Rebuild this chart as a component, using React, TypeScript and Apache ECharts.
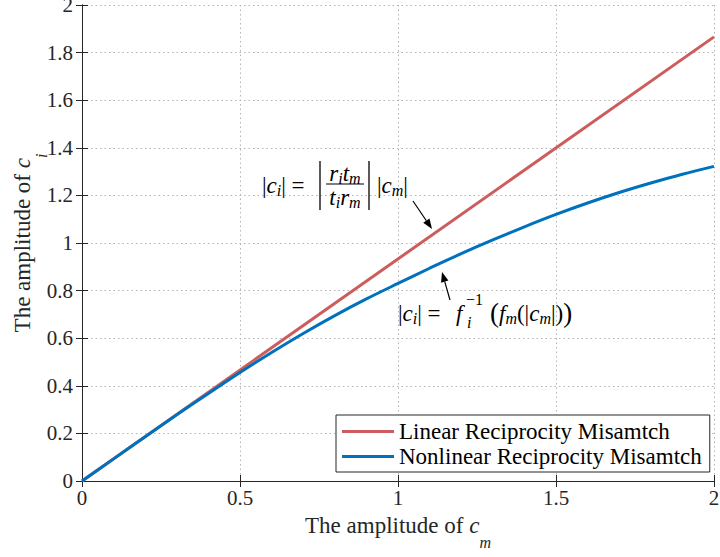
import React, { useEffect, useRef } from "react";
import * as echarts from "echarts";

// ---- data ----
const linearX = [0, 2];
const linearY = [0, 1.866];
const nonlinearX = [0, 0.1, 0.2, 0.3, 0.4, 0.5, 0.6, 0.7, 0.8, 0.9, 1.0, 1.1, 1.2, 1.3, 1.4, 1.5, 1.6, 1.7, 1.8, 1.9, 2.0];
const nonlinearY = [0, 0.093, 0.186, 0.278, 0.368, 0.456, 0.54, 0.62, 0.695, 0.765, 0.83, 0.894, 0.955, 1.013, 1.068, 1.12, 1.168, 1.212, 1.252, 1.289, 1.322];
const seriesNames = ["Linear Reciprocity Misamtch", "Nonlinear Reciprocity Misamtch"];
const xTitle = "{n|The amplitude of }{i|c}{s|m}";
const yTitle = "{n|The amplitude of }{i|c}{s|i}";

const SERIF = "Liberation Serif";
const AX = "#262626";
const RED = "#CD5C5C";
const BLUE = "#0072BD";

const fontStr = (italic: boolean, size: number) => `${italic ? "italic" : "normal"} normal ${size}px ${SERIF}`;

export default function App() {
  const ref = useRef<HTMLDivElement>(null);
  useEffect(() => {
    const chart = echarts.init(ref.current!, null, { renderer: "svg" });
    const tickLabel = {
      fontFamily: SERIF,
      fontSize: 21,
      color: AX,
      formatter: (v: number) => `{t|${v}}`,
      rich: { t: { fontFamily: SERIF, fontSize: 21, color: AX } },
    };
    const mkTitleRich = (H: number) => ({
      n: { fontFamily: SERIF, fontSize: 23, lineHeight: H, color: AX },
      i: { fontFamily: SERIF, fontSize: 23, lineHeight: H, fontStyle: "italic", color: AX },
      s: { fontFamily: SERIF, fontSize: 16, lineHeight: 16, fontStyle: "italic", verticalAlign: "bottom", color: AX },
    });
    const mathRich = {
      n: { font: fontStr(false, 23), fontFamily: SERIF, fontSize: 23, lineHeight: 26, fill: "#000" },
      b: { font: fontStr(false, 27), fontFamily: SERIF, fontSize: 27, lineHeight: 26, fill: "#000" },
      i: { font: fontStr(true, 23), fontFamily: SERIF, fontSize: 23, lineHeight: 26, fontStyle: "italic", fill: "#000" },
      s: { font: fontStr(true, 16), fontFamily: SERIF, fontSize: 16, lineHeight: 16, fontStyle: "italic", verticalAlign: "bottom", fill: "#000" },
    };
    const splitLine = { show: true, lineStyle: { color: "#b4b4b4", type: [1.5, 3], width: 1 } };
    const axisLine = { show: true, lineStyle: { color: AX, width: 1 } };
    const axisTick = { show: true, inside: true, length: 6, lineStyle: { color: AX, width: 1 } };
    const mtext = (x: number, y: number, text: string, align = "left") => ({
      type: "text",
      x,
      y,
      z: 100,
      style: {
        text,
        rich: mathRich,
        align,
        verticalAlign: "middle",
        fill: "#000",
        font: fontStr(false, 23),
      },
    });
    const ptext = (x: number, y: number, text: string, italic: boolean, size: number) => ({
      type: "text",
      x,
      y,
      z: 100,
      style: { text, font: fontStr(italic, size), fill: "#000", verticalAlign: "middle" },
    });
    const vline = (x: number, y1: number, y2: number) => ({
      type: "line",
      z: 100,
      shape: { x1: x, y1, x2: x, y2 },
      style: { stroke: "#000", lineWidth: 1.3 },
    });
    const arrow = (x1: number, y1: number, x2: number, y2: number) => {
      const dx = x2 - x1;
      const dy = y2 - y1;
      const L = Math.sqrt(dx * dx + dy * dy);
      const ux = dx / L;
      const uy = dy / L;
      const bx = x2 - ux * 10;
      const by = y2 - uy * 10;
      const nx = -uy * 3.8;
      const ny = ux * 3.8;
      return [
        { type: "line", z: 100, shape: { x1, y1, x2: bx, y2: by }, style: { stroke: "#000", lineWidth: 1.2 } },
        {
          type: "polygon",
          z: 100,
          shape: { points: [[x2, y2], [bx + nx, by + ny], [bx - nx, by - ny]] },
          style: { fill: "#000" },
        },
      ];
    };

    chart.setOption({
      animation: false,
      backgroundColor: "#fff",
      textStyle: { fontFamily: SERIF },
      grid: { left: 82, right: 6, top: 5, bottom: 76, containLabel: false, outerBoundsMode: "none" },
      xAxis: [
        {
          type: "value",
          min: 0,
          max: 2,
          interval: 0.5,
          name: xTitle,
          nameLocation: "middle",
          nameGap: 19,
          nameMoveOverlap: false,
          nameTextStyle: { rich: mkTitleRich(50) },
          axisLine,
          axisTick,
          axisLabel: { ...tickLabel, margin: 6 },
          splitLine,
        },
        {
          type: "value",
          position: "top",
          min: 0,
          max: 2,
          interval: 0.5,
          axisLine,
          axisTick,
          axisLabel: { show: false },
          splitLine: { show: false },
        },
      ],
      yAxis: [
        {
          type: "value",
          min: 0,
          max: 2,
          interval: 0.2,
          name: yTitle,
          nameLocation: "middle",
          nameRotate: 90,
          nameGap: 33,
          nameMoveOverlap: false,
          nameTextStyle: { rich: mkTitleRich(54) },
          axisLine,
          axisTick,
          axisLabel: { ...tickLabel, margin: 9 },
          splitLine,
        },
        {
          type: "value",
          position: "right",
          min: 0,
          max: 2,
          interval: 0.2,
          axisLine,
          axisTick,
          axisLabel: { show: false },
          splitLine: { show: false },
        },
      ],
      legend: {
        left: 336,
        top: 415,
        orient: "vertical",
        backgroundColor: "#fff",
        borderColor: AX,
        borderWidth: 1,
        borderRadius: 0,
        padding: [5, 8, 4, 6],
        itemGap: 2,
        itemWidth: 52,
        itemHeight: 3,
        icon: "rect",
        z: 50,
        textStyle: { fontFamily: SERIF, fontSize: 23, lineHeight: 23, color: "#000" },
        data: seriesNames,
      },
      series: [
        {
          name: seriesNames[0],
          type: "line",
          showSymbol: false,
          data: linearX.map((x, i) => [x, linearY[i]]),
          lineStyle: { color: RED, width: 3 },
          itemStyle: { color: RED },
        },
        {
          name: seriesNames[1],
          type: "line",
          showSymbol: false,
          smooth: 0.3,
          data: nonlinearX.map((x, i) => [x, nonlinearY[i]]),
          lineStyle: { color: BLUE, width: 3 },
          itemStyle: { color: BLUE },
        },
      ],
      graphic: [
        // formula 1
        mtext(262, 185, "{n||}{i|c}{s|i}{n||}{n| = }"),
        vline(320, 161, 210),
        mtext(345, 173, "{i|r}{s|i}{i|t}{s|m}", "center"),
        { type: "line", z: 100, shape: { x1: 326, y1: 184, x2: 364, y2: 184 }, style: { stroke: "#000", lineWidth: 1.2 } },
        mtext(345, 197, "{i|t}{s|i}{i|r}{s|m}", "center"),
        vline(369, 161, 210),
        mtext(377, 185, "{n||}{i|c}{s|m}{n||}"),
        ...arrow(413, 201, 432, 229),
        // formula 2
        mtext(398, 313, "{n||}{i|c}{s|i}{n||}{n| = }"),
        ptext(456, 313, "f", true, 23),
        ptext(466, 299, "−1", false, 16),
        ptext(467, 322, "i", true, 16),
        mtext(490, 313, "{b|(}{i|f}{s|m}{n|(|}{i|c}{s|m}{n||)}{b|)}"),
        ...arrow(450, 300, 442, 272),
      ],
    });
    return () => chart.dispose();
  }, []);
  return <div ref={ref} style={{ position: "fixed", left: 0, top: 0, width: 720, height: 557 }} />;
}
